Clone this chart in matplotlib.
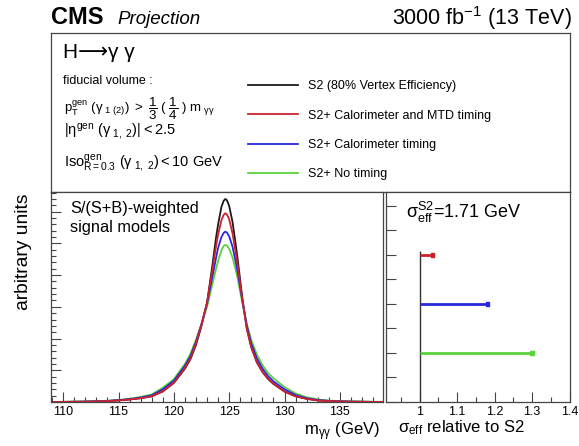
import matplotlib
matplotlib.use("Agg")
import matplotlib.pyplot as plt
from matplotlib.ticker import MultipleLocator, FuncFormatter, NullFormatter

plt.rcParams['font.family'] = ['Liberation Sans', 'DejaVu Sans']
plt.rcParams['mathtext.fontset'] = 'custom'
plt.rcParams['mathtext.rm'] = 'Liberation Sans'
plt.rcParams['mathtext.it'] = 'Liberation Sans:italic'
plt.rcParams['mathtext.bf'] = 'Liberation Sans:bold'
plt.rcParams['mathtext.default'] = 'regular'

# signal models
mass = [108.9, 110, 112, 114, 115, 116, 117, 118, 119, 120, 121, 121.5, 122, 122.5,
        123, 123.5, 123.8, 124.0, 124.3, 124.5, 124.65, 124.8, 125.0, 125.3, 125.6,
        125.8, 126.2, 126.6, 127, 127.5, 128, 128.5, 129, 130, 131, 132, 133, 134,
        136, 138.9]
s2 = [0.0, 0.003, 0.01, 0.03, 0.05, 0.08, 0.12, 0.18, 0.33, 0.60, 1.05, 1.35, 1.80, 2.40,
      3.12, 4.35, 5.15, 5.60, 6.15, 6.34, 6.40, 6.36, 6.18, 5.68, 4.95,
      4.40, 3.25, 2.30, 1.72, 1.25, 0.95, 0.73, 0.57, 0.33, 0.18, 0.10, 0.05, 0.03,
      0.01, 0.0]
calo_mtd = [0.0, 0.003, 0.01, 0.03, 0.05, 0.08, 0.12, 0.18, 0.34, 0.61, 1.07, 1.38, 1.84, 2.44,
            3.15, 4.20, 4.88, 5.28, 5.73, 5.90, 5.95, 5.91, 5.76, 5.32, 4.68,
            4.22, 3.20, 2.30, 1.73, 1.26, 0.96, 0.74, 0.58, 0.33, 0.18, 0.10, 0.05, 0.03,
            0.01, 0.0]
calo = [0.0, 0.004, 0.012, 0.035, 0.058, 0.09, 0.14, 0.21, 0.40, 0.67, 1.14, 1.45, 1.90, 2.46,
        3.10, 3.98, 4.52, 4.86, 5.20, 5.33, 5.37, 5.34, 5.22, 4.90, 4.40,
        4.02, 3.18, 2.40, 1.84, 1.38, 1.06, 0.82, 0.65, 0.40, 0.22, 0.12, 0.065, 0.037,
        0.012, 0.0]
no_timing = [0.0, 0.005, 0.015, 0.04, 0.065, 0.10, 0.16, 0.24, 0.45, 0.72, 1.20, 1.52, 1.96, 2.46,
             3.00, 3.74, 4.18, 4.45, 4.78, 4.92, 4.95, 4.93, 4.83, 4.56, 4.15,
             3.84, 3.10, 2.45, 1.95, 1.50, 1.17, 0.92, 0.75, 0.47, 0.27, 0.15, 0.08, 0.045,
             0.015, 0.003]

labels = ["S2 (80% Vertex Efficiency)", "S2+ Calorimeter and MTD timing",
          "S2+ Calorimeter timing", "S2+ No timing"]
colors = ["#1a1a1a", "#d0202e", "#2828dc", "#5ad23c"]

# sigma_eff relative to S2
ratio_rows = [6, 4, 2]
ratios = [1.035, 1.18, 1.30]
ref_ratio = 1.0
ref_top = 6.15

W, H = 579, 446


def fx(x):
    return x / W


def fy(y):
    return 1 - y / H


fig = plt.figure(figsize=(5.79, 4.46), dpi=100)
spine_col = "#444444"

ax_box = fig.add_axes([fx(51), fy(192), fx(569.5) - fx(51), fy(33) - fy(192)])
ax_box.set_xticks([])
ax_box.set_yticks([])
for sp in ax_box.spines.values():
    sp.set_color(spine_col)
    sp.set_linewidth(0.9)

ax = fig.add_axes([fx(51), fy(402), fx(383) - fx(51), fy(192) - fy(402)])
ax2 = fig.add_axes([fx(386), fy(402), fx(569.5) - fx(386), fy(192) - fy(402)])

# left panel: signal models
curves = [s2, calo_mtd, calo, no_timing]
lines = {}
for k in [0, 3, 2, 1]:
    ln, = ax.plot(mass, curves[k], color=colors[k], lw=1.3)
    lines[k] = ln

ax.set_xlim(108.9, 138.9)
ax.set_ylim(0, 6.62)
ax.xaxis.set_major_locator(MultipleLocator(5))
ax.xaxis.set_minor_locator(MultipleLocator(1))
ax.yaxis.set_major_locator(MultipleLocator(1))
ax.yaxis.set_minor_locator(MultipleLocator(0.2))
ax.yaxis.set_major_formatter(NullFormatter())

# right panel: sigma_eff ratios
ax2.vlines(ref_ratio, 0, ref_top, color="#333333", lw=1.0)
ax2.hlines(ratio_rows, ref_ratio, ratios, colors=colors[1:], lw=2.0)
ax2.scatter(ratios, ratio_rows, c=colors[1:], s=5, marker='s', zorder=3)
ax2.set_xlim(0.91, 1.4)
ax2.set_ylim(0, 8.57)
ax2.xaxis.set_major_locator(MultipleLocator(0.1))
ax2.xaxis.set_minor_locator(MultipleLocator(0.05))
ax2.xaxis.set_major_formatter(FuncFormatter(lambda v, p: f"{v:g}"))
ax2.yaxis.set_major_locator(MultipleLocator(1))
ax2.yaxis.set_major_formatter(NullFormatter())

for a in (ax, ax2):
    for sp in a.spines.values():
        sp.set_color(spine_col)
        sp.set_linewidth(0.9)
    a.tick_params(which='both', direction='in', color=spine_col, width=0.8,
                  top=False, right=False, labelsize=9, pad=3)
    a.tick_params(which='major', length=7)
    a.tick_params(which='minor', length=3.5)

# header
fig.text(fx(51), fy(24), "CMS", fontsize=17, fontweight='bold', va='baseline')
fig.text(fx(117), fy(24), "Projection", fontsize=13.5, style='italic', va='baseline')
fig.text(fx(572), fy(25), r"3000 fb$^{-1}$ (13 TeV)", fontsize=15.5, ha='right', va='baseline')

# box contents
fig.text(fx(62.7), fy(58), "H⟶γ γ", fontsize=15, va='baseline')
fig.text(fx(62.7), fy(84.5), "fiducial volume :", fontsize=9, va='baseline')
fig.text(fx(63.5), fy(112.5),
         r"$p_{T}^{gen}\ (γ_{\ 1\ (2)})\ >\ \dfrac{1}{3}\ (\ \dfrac{1}{4}\ )\ m_{\ γγ}$",
         fontsize=9.5, va='baseline')
fig.text(fx(63.5), fy(135), r"$|η^{gen}\ (γ_{\ 1,\ 2})| < 2.5$", fontsize=10.5, va='baseline')
fig.text(fx(63.5), fy(167.5), r"$Iso_{R=0.3}^{gen}\ (γ_{\ 1,\ 2}) < 10\ GeV$", fontsize=10.5,
         va='baseline')

fig.legend(handles=[lines[0], lines[1], lines[2], lines[3]], labels=labels,
           loc='upper left', bbox_to_anchor=(fx(248.3), fy(80)), frameon=False,
           fontsize=9, handlelength=4.0, handletextpad=0.75, labelspacing=1.4,
           borderpad=0, borderaxespad=0)

# panel texts
fig.text(fx(70), fy(213), "S/(S+B)-weighted", fontsize=11.8, va='baseline')
fig.text(fx(70), fy(232), "signal models", fontsize=11.8, va='baseline')
fig.text(fx(406), fy(218), r"$σ_{eff}^{S2}$=1.71 GeV", fontsize=13, va='baseline')

# axis titles
fig.text(fx(380), fy(435), r"$m_{γγ}$ (GeV)", fontsize=12, ha='right', va='baseline')
fig.text(fx(398), fy(432), r"$σ_{eff}$ relative to S2", fontsize=12, va='baseline')
fig.text(fx(24), fy(194), "arbitrary units", fontsize=13.9, rotation=90, ha='center', va='top')

fig.savefig("out.png", dpi=100)
